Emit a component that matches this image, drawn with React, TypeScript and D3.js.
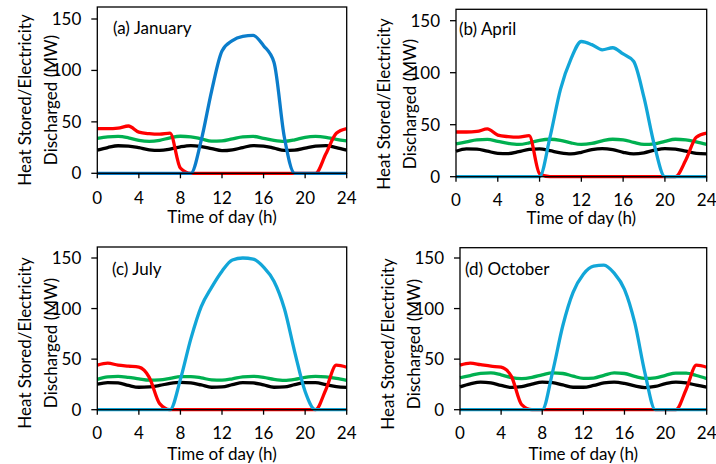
import React from 'react'
import * as d3 from 'd3'

// hourly readings, 0..24 h
const hours = [0, 1, 2, 3, 4, 5, 6, 7, 8, 9, 10, 11, 12, 13, 14, 15, 16, 17, 18, 19, 20, 21, 22, 23, 24]
const xTicks = [0, 4, 8, 12, 16, 20, 24]
const yTicks = [0, 50, 100, 150]

const janRed = [43.5, 43.5, 44, 46, 40, 38.5, 38, 39, 5, 0, 0, 0, 0, 0, 0, 0, 0, 0, 0, 0, 0, 0, 19, 39, 43.5]
const janGreen = [34, 35.5, 35.8, 34.5, 32, 31, 32, 34.5, 36, 35.5, 33.5, 31.2, 31.5, 33.5, 35.5, 35.8, 34, 32, 31, 32.5, 35, 35.8, 35, 33, 31.5]
const janBlack = [22.5, 25, 26.8, 26.5, 25, 22.8, 22.2, 23.5, 25.8, 27, 26, 24, 22, 22.8, 25, 27, 26.5, 24.5, 22.2, 22.5, 24.5, 26.5, 27, 25, 22.5]
const janBlue = [0, 0, 0, 0, 0, 0, 0, 0, 0, 0, 32, 80, 119, 129, 133, 134, 124, 108, 35, 0, 0, 0, 0, 0, 0]

const aprRed = [43, 43, 43.5, 46, 40, 38.5, 38, 39.5, 3, 0, 0, 0, 0, 0, 0, 0, 0, 0, 0, 0, 0, 0, 16, 38, 42]
const aprGreen = [31.5, 33.5, 35.5, 35.8, 34, 32, 31, 32.5, 35, 36, 35, 32.5, 31, 32, 34.5, 36, 35.5, 33, 31, 31.5, 34, 36, 35.5, 33.5, 31]
const aprBlack = [24.5, 26.8, 26.5, 24.5, 22.5, 22.2, 24, 26.3, 26.8, 25, 23, 22, 23.5, 26, 27, 26, 23.5, 22, 23, 25.5, 27, 26.5, 24.5, 22.5, 22]
const aprBlue = [0, 0, 0, 0, 0, 0, 0, 0, 0, 38, 84, 113, 130, 127, 122, 124, 118, 111, 76, 30, 0, 0, 0, 0, 0]

const julRed = [44, 46, 44, 43, 42, 32, 6, 0, 0, 0, 0, 0, 0, 0, 0, 0, 0, 0, 0, 0, 0, 0, 20, 44, 42]
const julGreen = [30, 32.5, 33, 32, 30.5, 29.2, 29.5, 31, 32.8, 32.8, 31.5, 29.5, 29.2, 30.5, 32.5, 33, 32, 30, 29, 30, 32, 33, 32.5, 31, 29]
const julBlack = [25.2, 26.8, 26.5, 24, 22.2, 22.5, 24, 26, 27, 26.5, 24.5, 22.2, 22.5, 24.8, 26.8, 26.5, 24.5, 22.2, 22.5, 24.8, 26.8, 26.8, 24.8, 22.8, 22]
const julBlue = [0, 0, 0, 0, 0, 0, 0, 0, 30, 70, 102, 121, 137, 148, 150, 149, 141, 127, 100, 57, 18, 0, 0, 0, 0]

const octRed = [44, 46, 44.5, 43, 42, 33, 5, 0, 0, 0, 0, 0, 0, 0, 0, 0, 0, 0, 0, 0, 0, 0, 20, 44, 42]
const octGreen = [31.6, 33.8, 36, 36.4, 34.5, 31.8, 30.8, 32, 34.5, 36.5, 35.8, 33.2, 31, 31.3, 34, 36.4, 35.8, 33, 30.9, 31.5, 34, 36.2, 36.2, 33.8, 30.8]
const octBlack = [22.6, 25.5, 27.3, 26.5, 24, 22, 22.8, 25.3, 27.3, 26.8, 24.5, 22.2, 22.2, 24, 26.5, 27.3, 26, 23.5, 21.9, 23, 25.8, 27.3, 26.5, 24.2, 22.2]
const octBlue = [0, 0, 0, 0, 0, 0, 0, 0, 0, 37, 83, 116, 134, 142, 143, 135, 119, 86, 36, 0, 0, 0, 0, 0, 0]

const FONT = 'Lato, "Open Sans", sans-serif'
const FS = 17

const panels = [
  {title: '(a) January', red: janRed, green: janGreen, black: janBlack, blue: janBlue, blueColor: '#0B7DCB',
    left: 97.3, right: 346.7, y0: 173.3, y150: 19, top: 7, titleX: 113, titleY: 34, tickY: 204, axisY: 223, labelCY: 100},
  {title: '(b) April', red: aprRed, green: aprGreen, black: aprBlack, blue: aprBlue, blueColor: '#12A6D8',
    left: 456, right: 706.7, y0: 176.7, y150: 20.7, top: 9.3, titleX: 459, titleY: 35, tickY: 206, axisY: 224, labelCY: 104},
  {title: '(c) July', red: julRed, green: julGreen, black: julBlack, blue: julBlue, blueColor: '#12A6D8',
    left: 97.3, right: 346.7, y0: 409.7, y150: 258, top: 247, titleX: 112, titleY: 275, tickY: 439, axisY: 460, labelCY: 343},
  {title: '(d) October', red: octRed, green: octGreen, black: octBlack, blue: octBlue, blueColor: '#12A6D8',
    left: 460, right: 706.7, y0: 409.7, y150: 258, top: 247.7, titleX: 465, titleY: 275, tickY: 439, axisY: 460, labelCY: 344},
]

function Panel({p}: {p: any}) {
  const x = d3.scaleLinear().domain([0, 24]).range([p.left, p.right])
  const y = d3.scaleLinear().domain([0, 150]).range([p.y0, p.y150])
  const line = d3.line<number>()
    .x((d, i) => x(hours[i]))
    .y(d => y(d))
    .curve(d3.curveMonotoneX)

  const series = [
    {vals: p.green, color: '#00B050'},
    {vals: p.black, color: '#000000'},
    {vals: p.red, color: '#FF0000'},
    {vals: p.blue, color: p.blueColor},
  ]

  return (
    <g>
      {series.map((s, i) => (
        <path key={i} d={line(s.vals) || ''} fill="none" stroke={s.color} strokeWidth={3.3} strokeLinejoin="round" />
      ))}
      <rect x={p.left} y={p.top} width={p.right - p.left} height={p.y0 - p.top} fill="none" stroke="#000" strokeWidth={1.3} />
      {yTicks.map(t => (
        <g key={'y' + t}>
          <line x1={p.left - 6} x2={p.left} y1={y(t)} y2={y(t)} stroke="#000" strokeWidth={1.3} />
          <text x={p.left - 16} y={y(t)} dy="0.35em" textAnchor="end">{t}</text>
        </g>
      ))}
      {xTicks.map(t => (
        <g key={'x' + t}>
          <line x1={x(t)} x2={x(t)} y1={p.y0} y2={p.y0 + 5} stroke="#000" strokeWidth={1.3} />
          <text x={x(t)} y={p.tickY} textAnchor="middle">{t}</text>
        </g>
      ))}
      <text x={(p.left + p.right) / 2} y={p.axisY} textAnchor="middle">Time of day (h)</text>
      <text x={p.titleX} y={p.titleY}>{p.title}</text>
      <text transform={`translate(${p.left - 66},${p.labelCY}) rotate(-90)`} textAnchor="middle">Heat Stored/Electricity</text>
      <text transform={`translate(${p.left - 40},${p.labelCY}) rotate(-90)`} textAnchor="middle">Discharged (MW)</text>
    </g>
  )
}

export default function App() {
  return (
    <svg width={716} height={464} style={{position: 'absolute', left: 0, top: 0, background: '#fff'}}
      fontFamily={FONT} fontSize={FS} fill="#000">
      <rect width={716} height={464} fill="#fff" />
      {panels.map((p, i) => <Panel key={i} p={p} />)}
    </svg>
  )
}
